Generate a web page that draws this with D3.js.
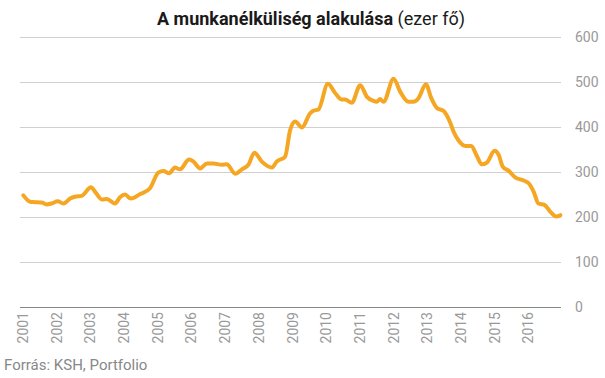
<!DOCTYPE html>
<html><head><meta charset="utf-8">
<script src="https://cdn.jsdelivr.net/npm/d3@7"></script>
<style>body{margin:0;background:#fff;}svg{display:block;font-family:Roboto,"Noto Sans",sans-serif;}</style>
</head><body><svg id="c" width="605" height="378"></svg>
<script>
const years = [2001.01,2001.21,2001.36,2001.56,2001.70,2001.85,2002.03,2002.20,2002.40,2002.54,2002.74,2003.02,2003.14,2003.34,2003.49,2003.73,2003.88,2004.03,2004.20,2004.48,2004.77,2005.02,2005.17,2005.34,2005.51,2005.66,2005.93,2006.06,2006.26,2006.46,2006.65,2006.90,2007.05,2007.30,2007.50,2007.69,2007.87,2008.09,2008.39,2008.53,2008.78,2008.93,2009.08,2009.28,2009.52,2009.62,2009.77,2010.05,2010.27,2010.47,2010.56,2010.76,2011.01,2011.21,2011.40,2011.50,2011.60,2011.70,2012.00,2012.20,2012.44,2012.59,2012.74,2012.96,2013.12,2013.29,2013.48,2013.68,2013.78,2013.93,2014.13,2014.31,2014.47,2014.62,2014.77,2015.00,2015.12,2015.24,2015.41,2015.61,2015.86,2016.01,2016.16,2016.30,2016.48,2016.65,2016.83,2016.95];
const values = [248,234,233,232,228,230,235,230,241,245,247,266,256,239,240,230,244,250,241,251,264,299,302,297,310,306,328,323,308,319,319,316,317,296,306,316,343,323,310,323,334,393,412,399,430,436,439,496,475,461,461,454,493,467,458,456,462,456,507,478,456,456,464,495,464,442,436,410,390,370,358,358,336,317,321,347,338,312,303,288,281,275,256,230,227,212,201,204];
const xTicks = [2001,2002,2003,2004,2005,2006,2007,2008,2009,2010,2011,2012,2013,2014,2015,2016];
const yTicks = [0,100,200,300,400,500,600];
const title = "A munkanélküliség alakulása";
const unit = " (ezer fő)";
const source = "Forrás: KSH, Portfolio";

const svg = d3.select("#c");
const x = d3.scaleLinear().domain([2001, 2017]).range([23, 562]);
const y = d3.scaleLinear().domain([0, 600]).range([307, 37]);

svg.append("g").selectAll("line").data(yTicks).join("line")
  .attr("x1", 20).attr("x2", 561)
  .attr("y1", d => y(d) + 0.5).attr("y2", d => y(d) + 0.5)
  .attr("stroke", d => d === 0 ? "#888" : "#d0d0d0").attr("stroke-width", 1);

svg.append("g").selectAll("text").data(yTicks).join("text")
  .attr("x", 575).attr("y", d => y(d) + 5)
  .attr("fill", "#999").attr("font-size", 14).text(d => d);

svg.append("g").selectAll("text").data(xTicks).join("text")
  .attr("transform", d => `translate(${x(d) + 5},312) rotate(-90)`)
  .attr("text-anchor", "end").attr("fill", "#999").attr("font-size", 14).text(d => d);

const pts = years.map((yr, i) => [yr, values[i]]);
svg.append("path").datum(pts)
  .attr("d", d3.line().x(d => x(d[0])).y(d => y(d[1])).curve(d3.curveMonotoneX))
  .attr("fill", "none").attr("stroke", "#f5a623").attr("stroke-width", 4)
  .attr("stroke-linejoin", "round").attr("stroke-linecap", "round");

const t = svg.append("text").attr("x", 311).attr("y", 25).attr("text-anchor", "middle")
  .attr("font-size", 18).attr("fill", "#1a1a1a");
t.append("tspan").attr("font-weight", "bold").text(title);
t.append("tspan").text(unit);

svg.append("text").attr("x", 4).attr("y", 370).attr("fill", "#888").attr("font-size", 15).text(source);
</script></body></html>
